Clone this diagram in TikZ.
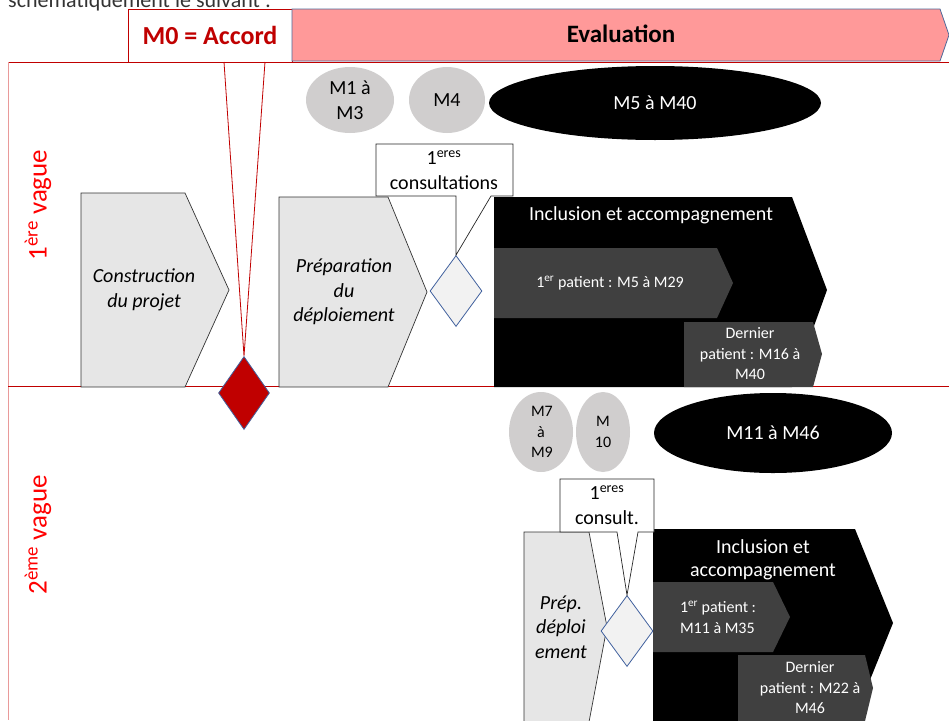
\documentclass[tikz,border=0pt]{standalone}
\usepackage{fontspec}
\setmainfont{Carlito}
\usepackage{tikz}
\usetikzlibrary{shapes.geometric,positioning}
\definecolor{accordred}{HTML}{C00000}
\definecolor{framepink}{HTML}{E99A9A}
\definecolor{evalpink}{HTML}{FF9999}
\definecolor{evalblue}{HTML}{4F6A9A}
\definecolor{phasegray}{HTML}{E6E6E6}
\definecolor{msgray}{HTML}{D0CECE}
\definecolor{patientgray}{HTML}{404040}
\definecolor{jalonblue}{HTML}{41619E}
\definecolor{jalonfill}{HTML}{F2F2F2}

\begin{document}
\begin{tikzpicture}[x=1pt, y=-1pt,
  every node/.style={inner sep=0pt},
  txt/.style={font=\fontsize{20}{25}\selectfont, align=center},
  smalltxt/.style={font=\fontsize{16}{20.5}\selectfont, align=center},
  phasetxt/.style={font=\fontsize{20}{24.5}\selectfont\itshape, align=center},
  phase/.style={draw=black!80, fill=phasegray, line width=0.7pt},
  inclusion/.style={fill=black},
  patient/.style={fill=patientgray},
  gray milestone/.style={ellipse, fill=msgray},
  black milestone/.style={ellipse, fill=black, text=white},
  jalon/.style={diamond, draw=jalonblue, fill=jalonfill, line width=0.8pt, minimum width=52pt, minimum height=71pt},
  bulle/.style={draw=black!85, fill=white, line width=0.7pt},
  vague/.style={rotate=90, text=red, font=\fontsize{27}{32}\selectfont},
  frame/.style={draw=accordred, line width=0.9pt}
]
\useasboundingbox (0,0) rectangle (949,720);

\node[anchor=base west, text=black!80, font=\fontsize{22}{26}\selectfont] (intro) at (8,7) {schématiquement le suivant :};

% cadre des deux vagues
\draw[frame] (8,62) -- (949,62);
\draw[draw=framepink, line width=0.9pt] (8,62) -- (8,720);
\draw[frame] (8,386) -- (949,386);

% bandeau du haut
\node[draw=accordred, fill=white, line width=0.8pt, minimum width=164pt, minimum height=53pt,
  text=accordred, font=\fontsize{26}{30}\selectfont\bfseries] (m0) at (210,35.5) {M0 = Accord};
\draw[fill=evalpink, draw=evalblue, line width=0.8pt] (292,9) -- (940,9) -- (949,35) -- (940,61) -- (292,61) -- cycle;
\node[font=\fontsize{25}{30}\selectfont\bfseries] (evaluation) at (621,34) {Evaluation};

\node[diamond, draw=jalonblue, fill=accordred, line width=0.8pt, minimum width=51pt, minimum height=73pt] (accord) at (244,393) {};
\coordinate (m0l) at (224,62);
\coordinate (m0r) at (265,62);
\draw[accordred, line width=0.8pt] (m0l) -- (accord.north) -- (m0r);

\node[vague] (vague1) at (38,205) {1\textsuperscript{ère} vague};
\node[vague] (vague2) at (38,535) {2\textsuperscript{ème} vague};

% 1ere vague
\node[gray milestone, txt, minimum width=88pt, minimum height=66pt] (m1) at (350,100) {M1 à\\M3};
\node[gray milestone, txt, minimum width=76pt, minimum height=66pt] (m4) at (447,100) {M4};
\node[black milestone, txt, minimum width=332pt, minimum height=74pt] (m5) at (655,103) {M5 à M40};

\draw[phase] (81,193) -- (185,193) -- (229,290) -- (185,387) -- (81,387) -- cycle;
\node[phasetxt] (construction) at (144,290) {Construction\\du projet};
\draw[phase] (279,197) -- (388,197) -- (427,292) -- (388,387) -- (279,387) -- cycle;
\node[phasetxt] (preparation) at (344,292) {Préparation\\du\\déploiement};

\fill[inclusion] (494,197) -- (792,197) -- (827,290) -- (792,387) -- (494,387) -- cycle;
\node[txt, text=white] (inclusion1) at (651,215) {Inclusion et accompagnement};
\fill[patient] (494,248) -- (717,248) -- (733,283) -- (717,318) -- (494,318) -- cycle;
\node[smalltxt, text=white] (premier1) at (610,283) {1\textsuperscript{er} patient : M5 à M29};
\fill[patient] (684,322) -- (813,322) -- (822,354) -- (813,387) -- (684,387) -- cycle;
\node[smalltxt, text=white] (dernier1) at (750,354) {Dernier\\patient : M16 à\\M40};

\node[jalon] (jalon1) at (456,291) {};
\draw[bulle] (376,144) -- (513,144) -- (513,196) -- (491,196) -- (jalon1.north) -- (456,196) -- (376,196) -- cycle;
\node[txt] (bulle1) at (444,170) {1\textsuperscript{eres}\\consultations};

% 2eme vague
\node[gray milestone, smalltxt, text width=20pt, minimum width=64pt, minimum height=80pt] (m7) at (541,432) {M7\\à\\M9};
\node[gray milestone, smalltxt, text width=20pt, minimum width=54pt, minimum height=80pt] (m10) at (603,432) {M\\10};
\node[black milestone, txt, minimum width=238pt, minimum height=80pt] (m11) at (773,433) {M11 à M46};

\draw[phase] (524,532) -- (589,532) -- (607,627) -- (589,722) -- (524,722) -- cycle;
\node[phasetxt] (prep) at (561,627) {Prép.\\déploi\\ement};

\fill[inclusion] (653,529) -- (855,529) -- (893,623) -- (855,717) -- (855,724) -- (653,724) -- cycle;
\node[txt, text=white, font=\fontsize{20}{23.5}\selectfont] (inclusion2) at (763,560) {Inclusion et\\accompagnement};
\fill[patient] (653,582) -- (773,582) -- (790,617) -- (773,652) -- (653,652) -- cycle;
\node[smalltxt, align=left, text=white] (premier2) at (718,617) {1\textsuperscript{er} patient :\\M11 à M35};
\fill[patient] (738,655) -- (865,655) -- (873,688) -- (865,721) -- (738,721) -- cycle;
\node[smalltxt, text=white] (dernier2) at (810,688) {Dernier\\patient : M22 à\\M46};

\node[jalon] (jalon2) at (627,631) {};
\draw[bulle] (560,479) -- (654,479) -- (654,532) -- (638,532) -- (jalon2.north) -- (617,532) -- (560,532) -- cycle;
\node[txt] (bulle2) at (607,505) {1\textsuperscript{eres}\\consult.};

\end{tikzpicture}
\end{document}
